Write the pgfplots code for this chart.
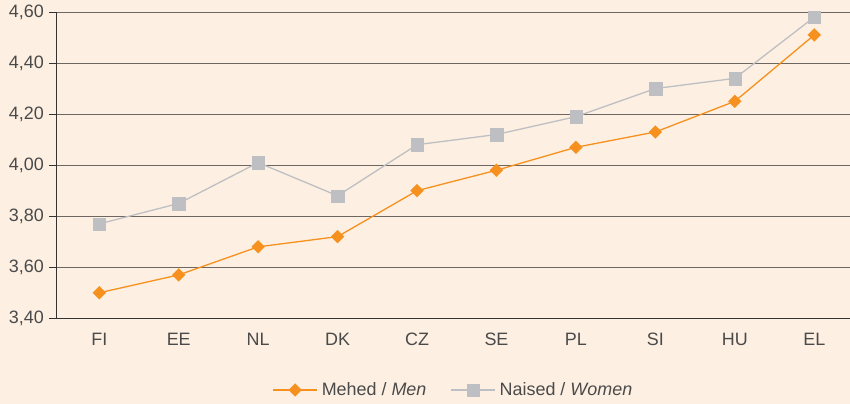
\documentclass[border=0pt]{standalone}
\usepackage{pgfplots}
\pgfplotsset{compat=1.18}
\usepackage{fontspec}
\setmainfont{Liberation Sans}
\definecolor{bg}{HTML}{FDF0E2}
\definecolor{menc}{HTML}{F6901E}
\definecolor{womc}{HTML}{BEBFC3}
\definecolor{gridc}{HTML}{6E6660}
\definecolor{txt}{HTML}{4A4A4A}
\begin{document}
\begin{tikzpicture}
\fill[bg] (-56.7bp,-85.7bp) rectangle (793.3bp,318.3bp);
\path[use as bounding box] (-56.7bp,-85.7bp) rectangle (793.3bp,318.3bp);
\begin{axis}[
  at={(0,0)}, anchor=south west,
  scale only axis,
  width=793.3bp, height=306.3bp,
  xmin=-0.536, xmax=9.45,
  ymin=3.4, ymax=4.6,
  ytick={3.4,3.6,3.8,4.0,4.2,4.4,4.6},
  xtick={0,...,9},
  xticklabels={FI,EE,NL,DK,CZ,SE,PL,SI,HU,EL},
  axis x line=bottom, axis y line=left,
  axis line style={draw=black!80, line width=0.9bp, -},
  ymajorgrids,
  grid style={gridc, line width=0.9bp},
  xtick style={draw=none},
  ytick style={draw=black!80, line width=0.9bp},
  tick align=outside,
  major tick length=7.4bp,
  tick label style={font=\fontsize{18}{21}\selectfont, text=txt},
  yticklabel style={xshift=-2bp},
  xticklabel style={yshift=-4bp},
  /pgf/number format/.cd, fixed, fixed zerofill, precision=2, use comma, assume math mode=true,
  /pgfplots/.cd,
  legend columns=2,
  legend style={at={(0.5,-0.234)}, anchor=center, draw=none, fill=none,
    font=\fontsize{18}{21}\selectfont, text=txt,
    /tikz/every odd column/.append style={column sep=2bp},
    /tikz/every even column/.append style={column sep=22bp}},
  legend image code/.code={
    \draw[mark repeat=2, mark phase=2, #1] plot coordinates {(0bp,0bp) (22bp,0bp) (44bp,0bp)};
  },
  clip=false,
]
\addplot[menc, line width=1.3bp, mark=diamond*, mark size=6.5bp,
  mark options={fill=menc, draw=menc, line width=0.1bp, xscale=1.333}]
  coordinates {(0,3.50) (1,3.57) (2,3.68) (3,3.72) (4,3.90) (5,3.98) (6,4.07) (7,4.13) (8,4.25) (9,4.51)};
\addlegendentry{Mehed / \textit{Men}}
\addplot[womc, line width=1.3bp, mark=square*, mark size=6.2bp,
  mark options={fill=womc, draw=womc, line width=0.1bp}]
  coordinates {(0,3.77) (1,3.85) (2,4.01) (3,3.88) (4,4.08) (5,4.12) (6,4.19) (7,4.30) (8,4.34) (9,4.58)};
\addlegendentry{Naised / \textit{Women}}
\end{axis}
\end{tikzpicture}
\end{document}
